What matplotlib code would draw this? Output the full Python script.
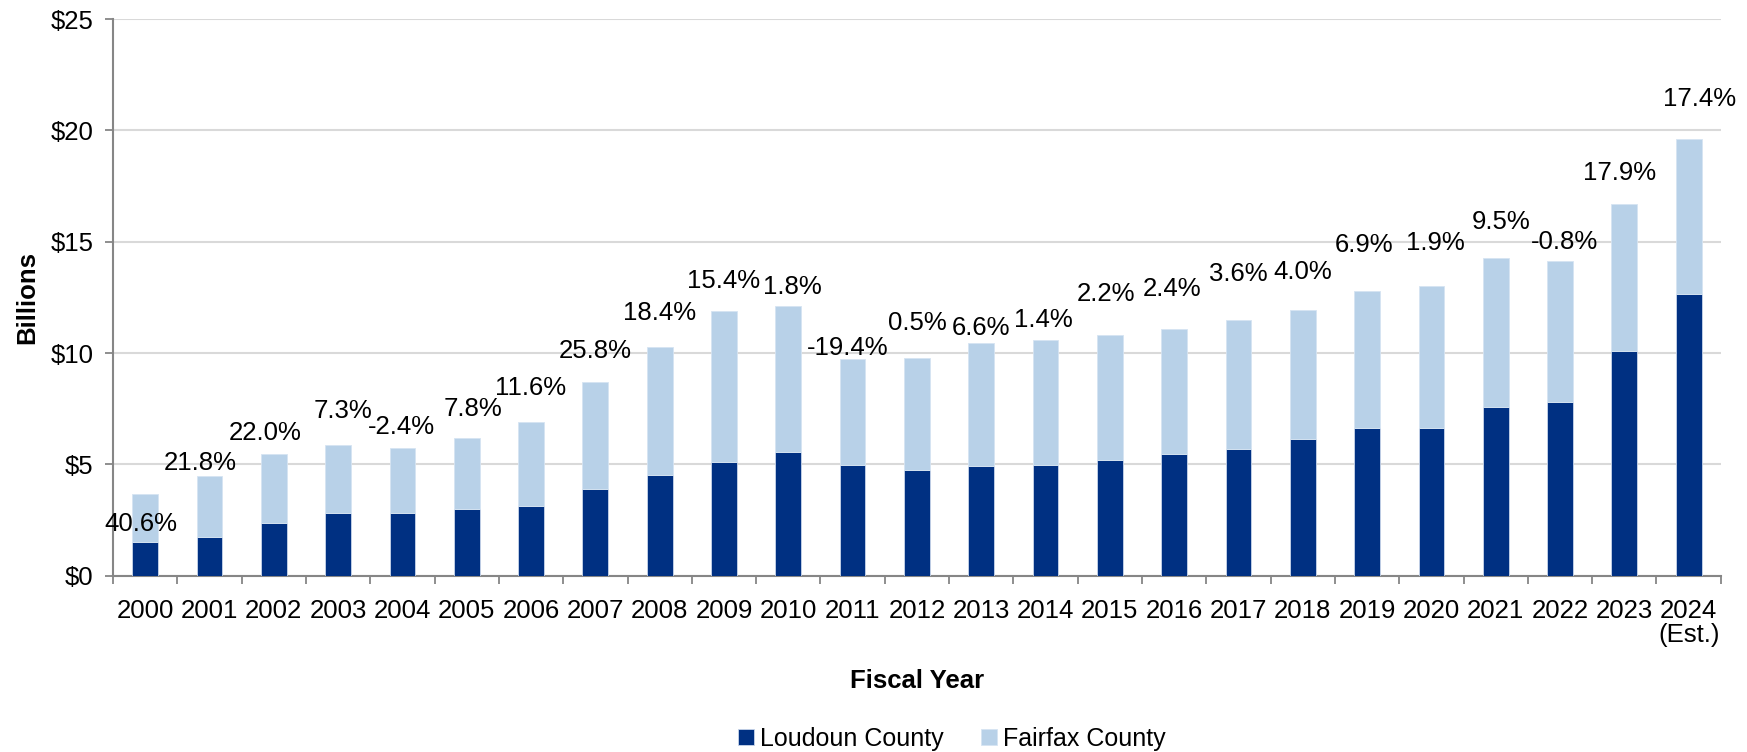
import matplotlib
matplotlib.use('Agg')
import matplotlib.pyplot as plt
import numpy as np

plt.rcParams['font.family'] = ['Liberation Sans', 'DejaVu Sans']

# data (billions of dollars)
years = ['2000', '2001', '2002', '2003', '2004', '2005', '2006', '2007', '2008',
         '2009', '2010', '2011', '2012', '2013', '2014', '2015', '2016', '2017',
         '2018', '2019', '2020', '2021', '2022', '2023', '2024\n(Est.)']
loudoun = [1.49, 1.75, 2.35, 2.80, 2.83, 2.99, 3.14, 3.91, 4.52, 5.11, 5.55, 4.96,
           4.74, 4.93, 4.98, 5.20, 5.48, 5.70, 6.14, 6.65, 6.63, 7.57, 7.78, 10.11, 12.65]
total = [3.67, 4.46, 5.47, 5.87, 5.73, 6.18, 6.90, 8.70, 10.29, 11.89, 12.10, 9.74,
         9.78, 10.44, 10.59, 10.81, 11.08, 11.50, 11.95, 12.77, 13.02, 14.27, 14.14, 16.69, 19.59]
fairfax = [t - l for t, l in zip(total, loudoun)]
growth = ['40.6%', '21.8%', '22.0%', '7.3%', '-2.4%', '7.8%', '11.6%', '25.8%', '18.4%',
          '15.4%', '1.8%', '-19.4%', '0.5%', '6.6%', '1.4%', '2.2%', '2.4%', '3.6%',
          '4.0%', '6.9%', '1.9%', '9.5%', '-0.8%', '17.9%', '17.4%']

# label placement tweaks relative to the top of each bar (data units)
label_dy = [-1.35, 0.60, 0.93, 1.51, 0.96, 1.32, 1.54, 1.40, 1.52, 1.36, 0.85, 0.50,
            1.59, 0.70, 0.89, 1.83, 1.79, 2.04, 1.67, 2.08, 1.94, 1.60, 0.85, 1.39, 1.83]
label_dx = [-0.07, -0.14, -0.14, 0.08, -0.02, 0.09, 0.0, 0.0, 0.0, 0.0, 0.06, -0.07,
            0.0, 0.0, -0.04, -0.06, -0.03, 0.0, 0.0, -0.05, 0.06, 0.09, 0.07, -0.08, 0.17]

dark = '#003082'
light = '#b8d1e8'
fs = 18.5

fig = plt.figure(figsize=(17.47, 7.52), dpi=100)
ax = fig.add_axes([0.0647, 0.2345, 0.9203, 0.7402])

x = np.arange(len(years))
ax.bar(x, loudoun, width=0.4, color=dark, edgecolor='#c9d6ea', linewidth=0.6,
       label='Loudoun County', zorder=3)
ax.bar(x, fairfax, width=0.4, bottom=loudoun, color=light, edgecolor='#d6e4f2',
       linewidth=0.6, label='Fairfax County', zorder=3)

for i, txt in enumerate(growth):
    ax.text(x[i] + label_dx[i], total[i] + label_dy[i], txt, ha='center', va='center',
            fontsize=fs, color='black', zorder=4)

ax.set_xlim(-0.5, len(years) - 0.5)
ax.set_ylim(0, 25)
ax.set_yticks([0, 5, 10, 15, 20, 25])
ax.set_yticklabels(['$0', '$5', '$10', '$15', '$20', '$25'], fontsize=fs)
ax.set_xticks(x)
ax.set_xticklabels(years, fontsize=fs, linespacing=1.0)
ax.set_xticks(np.arange(-0.5, len(years)), minor=True)
ax.tick_params(axis='x', which='major', length=0, pad=17)
ax.tick_params(axis='x', which='minor', length=6, width=1.3, color='#868686', direction='out')
ax.tick_params(axis='y', length=6, width=1.3, color='#868686', pad=8)

ax.grid(axis='y', color='#d9d9d9', linewidth=1.5, zorder=0)
ax.set_axisbelow(True)
for s in ['top', 'right']:
    ax.spines[s].set_visible(False)
for s in ['left', 'bottom']:
    ax.spines[s].set_color('#868686')
    ax.spines[s].set_linewidth(1.5)

ax.set_ylabel('Billions', fontsize=fs, fontweight='bold', labelpad=8)
ax.set_xlabel('Fiscal Year', fontsize=fs, fontweight='bold', labelpad=16)

fig.legend(loc='lower center', bbox_to_anchor=(0.545, -0.028), ncol=2, frameon=False,
           fontsize=18, handlelength=0.62, handleheight=0.62, handletextpad=0.25,
           columnspacing=1.5)

fig.savefig('out.png', dpi=100)
